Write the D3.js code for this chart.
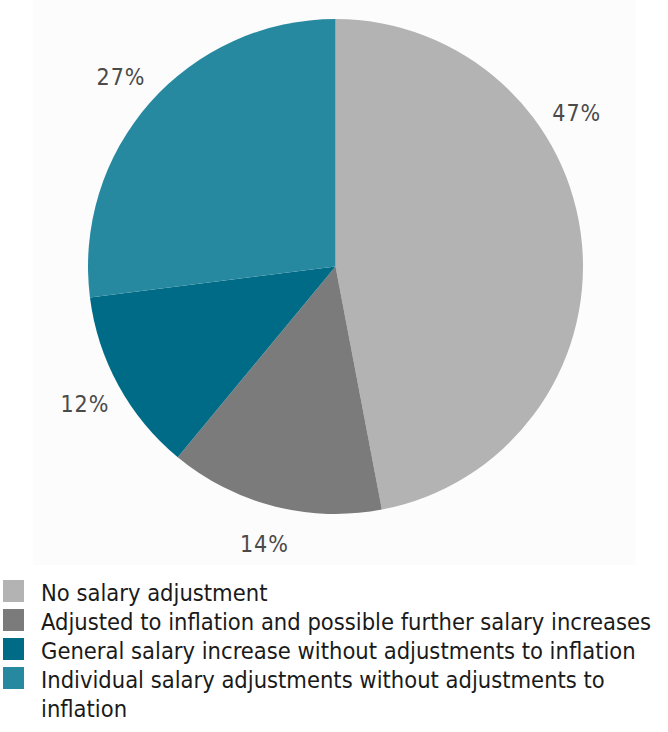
<!DOCTYPE html>
<html>
<head>
<meta charset="utf-8">
<script src="https://cdn.jsdelivr.net/npm/d3@7"></script>
<style>
  html, body { margin: 0; padding: 0; background: #ffffff; }
  svg { display: block; }
</style>
</head>
<body>
<svg id="chart" width="668" height="732"></svg>
<script>
// Survey shares by salary policy
const categories = [
  "No salary adjustment",
  "Adjusted to inflation and possible further salary increases",
  "General salary increase without adjustments to inflation",
  "Individual salary adjustments without adjustments to inflation"
];
const values = [47, 14, 12, 27];
const valueLabels = ["47%", "14%", "12%", "27%"];
const colors = ["#b3b3b3", "#7b7b7b", "#006b86", "#2789a0"];

// where along each slice its percentage label sits (0 = start, 1 = end)
const labelFraction = [0.34, 0.5, 0.5, 0.5];

const svg = d3.select("#chart");
const cx = 335.5, cy = 266.5, radius = 247.5, labelRadius = 286;
const fontFamily = "'DejaVu Sans Condensed', 'Liberation Sans Narrow', 'Roboto', sans-serif";

// faint panel behind the pie
svg.append("rect")
  .attr("x", 33).attr("y", 0)
  .attr("width", 603).attr("height", 565)
  .attr("fill", "#fcfcfc");

const pie = d3.pie().sort(null).value(d => d)(values);
const arc = d3.arc().innerRadius(0).outerRadius(radius);

const g = svg.append("g").attr("transform", `translate(${cx},${cy})`);
g.selectAll("path")
  .data(pie)
  .join("path")
  .attr("d", arc)
  .attr("fill", (d, i) => colors[i]);

g.selectAll("text.pct")
  .data(pie)
  .join("text")
  .attr("class", "pct")
  .each(function (d, i) {
    const a = d.startAngle + (d.endAngle - d.startAngle) * labelFraction[i];
    d3.select(this)
      .attr("x", Math.sin(a) * labelRadius)
      .attr("y", -Math.cos(a) * labelRadius);
  })
  .attr("text-anchor", "middle")
  .attr("dominant-baseline", "central")
  .attr("font-family", fontFamily)
  .attr("font-size", 23)
  .attr("letter-spacing", 1)
  .attr("fill", "#4a4a4a")
  .text((d, i) => valueLabels[i]);

// legend
const legend = svg.append("g").attr("transform", "translate(3,580)");
const rowStep = 29;
const legendLines = [
  [categories[0]],
  [categories[1]],
  [categories[2]],
  ["Individual salary adjustments without adjustments to", "inflation"]
];
legend.selectAll("rect")
  .data(categories)
  .join("rect")
  .attr("x", 0)
  .attr("y", (d, i) => i * rowStep)
  .attr("width", 21)
  .attr("height", 22)
  .attr("fill", (d, i) => colors[i]);

const texts = legend.selectAll("text")
  .data(legendLines)
  .join("text")
  .attr("x", 38)
  .attr("y", (d, i) => i * rowStep + 21)
  .attr("font-family", fontFamily)
  .attr("font-size", 23.5)
  .attr("fill", "#1a1a1a");
texts.selectAll("tspan")
  .data(d => d)
  .join("tspan")
  .attr("x", 38)
  .attr("dy", (d, j) => j === 0 ? 0 : rowStep)
  .text(d => d);
</script>
</body>
</html>
